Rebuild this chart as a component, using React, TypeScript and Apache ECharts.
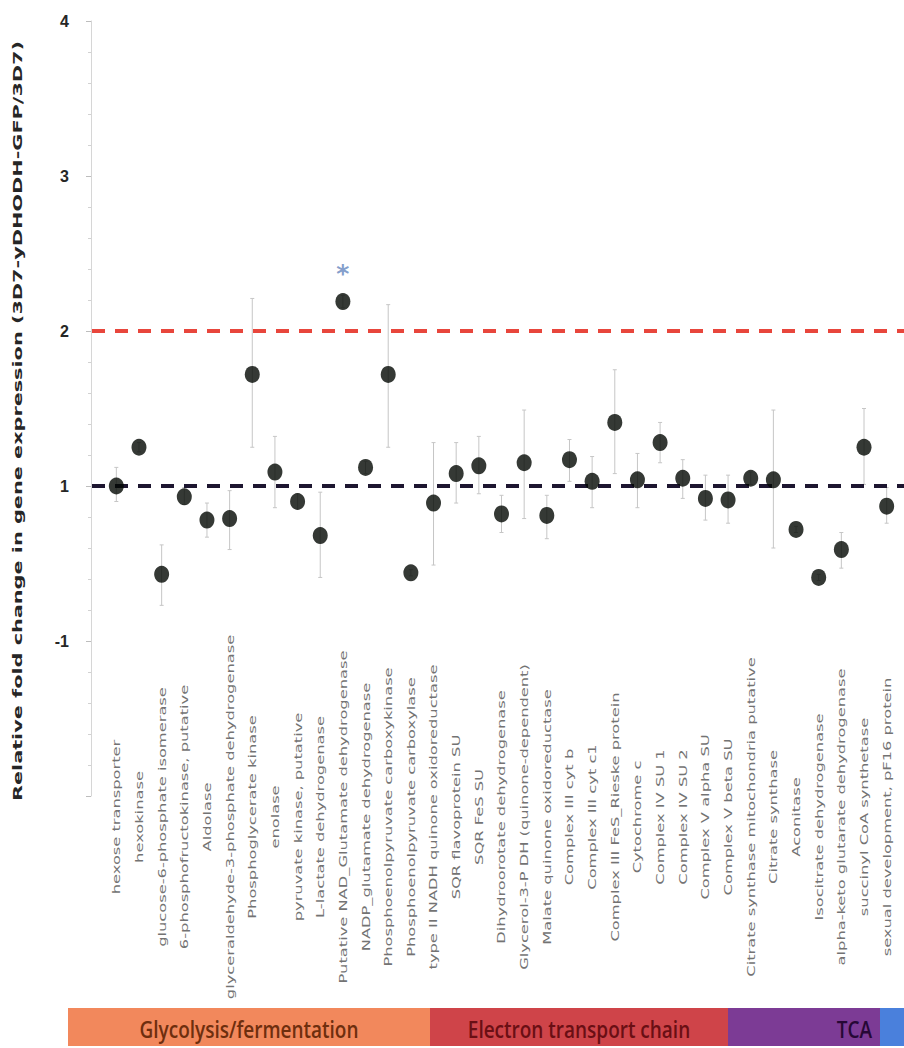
import React, { useEffect, useRef } from "react";
import * as echarts from "echarts";

// Genes on the x axis, left to right
const categories = [
  "hexose transporter",
  "hexokinase",
  "glucose-6-phosphate isomerase",
  "6-phosphofructokinase, putative",
  "Aldolase",
  "glyceraldehyde-3-phosphate dehydrogenase",
  "Phosphoglycerate kinase",
  "enolase",
  "pyruvate kinase, putative",
  "L-lactate dehydrogenase",
  "Putative NAD_Glutamate dehydrogenase",
  "NADP_glutamate dehydrogenase",
  "Phosphoenolpyruvate carboxykinase",
  "Phosphoenolpyruvate carboxylase",
  "type II NADH quinone oxidoreductase",
  "SQR flavoprotein SU",
  "SQR FeS SU",
  "Dihydroorotate dehydrogenase",
  "Glycerol-3-P DH (quinone-dependent)",
  "Malate quinone oxidoreductase",
  "Complex III cyt b",
  "Complex III cyt c1",
  "Complex III FeS_Rieske protein",
  "Cytochrome c",
  "Complex IV SU 1",
  "Complex IV SU 2",
  "Complex V alpha SU",
  "Complex V beta SU",
  "Citrate synthase mitochondria putative",
  "Citrate synthase",
  "Aconitase",
  "Isocitrate dehydrogenase",
  "alpha-keto glutarate dehydrogenase",
  "succinyl CoA synthetase",
  "sexual development, pF16 protein",
];

// Mean relative fold change (axis units)
const foldChange = [
  1.0, 1.25, 0.43, 0.93, 0.78, 0.79, 1.72, 1.09, 0.9, 0.68, 2.19, 1.12, 1.72,
  0.44, 0.89, 1.08, 1.13, 0.82, 1.15, 0.81, 1.17, 1.03, 1.41, 1.04, 1.28, 1.05,
  0.92, 0.91, 1.05, 1.04, 0.72, 0.41, 0.59, 1.25, 0.87,
];

// Error bar lower bounds
const errLow = [
  0.9, 1.22, 0.23, 0.88, 0.67, 0.59, 1.25, 0.86, 0.85, 0.41, 2.15, 1.08, 1.25,
  0.42, 0.49, 0.89, 0.95, 0.7, 0.79, 0.66, 1.03, 0.86, 1.08, 0.86, 1.15, 0.92,
  0.78, 0.76, 1.01, 0.6, 0.7, 0.39, 0.47, 1.01, 0.76,
];

// Error bar upper bounds
const errHigh = [
  1.12, 1.28, 0.62, 0.99, 0.89, 0.97, 2.21, 1.32, 0.95, 0.96, 2.23, 1.16, 2.17,
  0.46, 1.28, 1.28, 1.32, 0.94, 1.49, 0.94, 1.3, 1.19, 1.75, 1.21, 1.41, 1.17,
  1.07, 1.07, 1.09, 1.49, 0.74, 0.43, 0.7, 1.5, 0.99,
];

// Genes flagged as significant
const significantIdx = [10];

// Tick labels shown on the value axis
const yTickLabels: Record<string, string> = {
  "4": "4",
  "3": "3",
  "2": "2",
  "1": "1",
  "0": "-1",
};

// Reference lines
const thresholdLevel = 2;
const baselineLevel = 1;

// Pathway groups shown in the band under the chart
const groupNames = ["Glycolysis/fermentation", "Electron transport chain", "TCA", ""];
const groupFill = ["#f2885c", "#cf4449", "#7c3b95", "#4a80dc"];
const groupText = ["#6e2e0e", "#6a0f14", "#260835", "#1a2a60"];

const yTitle = "Relative fold change in gene expression (3D7-yDHODH-GFP/3D7)";

export default function App() {
  const ref = useRef<HTMLDivElement>(null);

  useEffect(() => {
    document.body.style.margin = "0";
    const el = ref.current!;
    const chart = echarts.init(el, null, { renderer: "svg" });

    chart.setOption({
      animation: false,
      backgroundColor: "#ffffff",
      grid: { left: 105, right: 6, top: 21, bottom: 252 },
      xAxis: {
        type: "category",
        data: categories,
        axisLine: { show: false },
        axisTick: { show: false },
        axisLabel: { show: false },
        splitLine: { show: false },
      },
      yAxis: {
        type: "value",
        min: -1,
        max: 4,
        interval: 1,
        offset: 14,
        axisLine: { show: true, lineStyle: { color: "#d6d6d6", width: 1 } },
        axisTick: { show: true, length: 5, lineStyle: { color: "#bdbdbd" } },
        minorTick: {
          show: true,
          splitNumber: 5,
          length: 3,
          lineStyle: { color: "#d2d2d2" },
        },
        splitLine: { show: false },
        axisLabel: {
          formatter: (v: number) => yTickLabels[String(v)] ?? "",
          fontSize: 16,
          fontWeight: "bold",
          color: "#262626",
          fontFamily: "Liberation Sans",
          margin: 22,
        },
      },
      series: [
        {
          type: "custom",
          name: "error",
          z: 1,
          data: categories.map((_, i) => [i, errLow[i], errHigh[i]]),
          encode: { x: 0, y: [1, 2] },
          renderItem: (_params: any, api: any) => {
            const i = api.value(0);
            const lo = api.coord([i, api.value(1)]);
            const hi = api.coord([i, api.value(2)]);
            const cap = 2;
            const style = { stroke: "#c6c6c6", lineWidth: 1 };
            return {
              type: "group",
              children: [
                { type: "line", shape: { x1: lo[0], y1: lo[1], x2: hi[0], y2: hi[1] }, style },
                { type: "line", shape: { x1: lo[0] - cap, y1: lo[1], x2: lo[0] + cap, y2: lo[1] }, style },
                { type: "line", shape: { x1: hi[0] - cap, y1: hi[1], x2: hi[0] + cap, y2: hi[1] }, style },
              ],
            };
          },
        },
        {
          type: "scatter",
          name: "fold change",
          z: 3,
          symbol: "circle",
          symbolSize: [15, 17],
          itemStyle: { color: "#030703" },
          data: foldChange.map((v, i) =>
            significantIdx.includes(i)
              ? {
                  value: [i, v],
                  label: {
                    show: true,
                    position: "top",
                    distance: 7,
                    formatter: "*",
                    fontSize: 25,
                    fontWeight: "bold",
                    fontFamily: "DejaVu Sans",
                    color: "#6485be",
                  },
                }
              : [i, v]
          ),
        },
      ],
    });

    const W = 904;
    const xOf = (i: number) => chart.convertToPixel({ xAxisIndex: 0 }, i) as number;
    const yOf = (v: number) => chart.convertToPixel({ yAxisIndex: 0 }, v) as number;

    const dashed = (v: number, color: string) => ({
      type: "line",
      z: 1,
      silent: true,
      shape: { x1: 92, y1: yOf(v), x2: W, y2: yOf(v) },
      style: { stroke: color, lineWidth: 4, lineDash: [13, 10] },
    });

    const labels = categories.map((name, i) => ({
      type: "text",
      silent: true,
      x: xOf(i),
      y: 817,
      rotation: Math.PI / 2,
      scaleX: 1.48,
      style: {
        text: name,
        fontSize: 11,
        fontFamily: "DejaVu Sans",
        fill: "#737373",
        align: "center",
        verticalAlign: "middle",
      },
    }));

    const bandEdges = [68, 430, 728, 880, W];
    const bandTop = 1008;
    const bandH = 38;
    const bands: any[] = [];
    groupNames.forEach((name, g) => {
      bands.push({
        type: "rect",
        silent: true,
        shape: { x: bandEdges[g], y: bandTop, width: bandEdges[g + 1] - bandEdges[g], height: bandH },
        style: { fill: groupFill[g] },
      });
      if (name) {
        const isLast = g === 2;
        bands.push({
          type: "text",
          silent: true,
          x: isLast ? bandEdges[g + 1] - 8 : (bandEdges[g] + bandEdges[g + 1]) / 2,
          y: bandTop + bandH / 2 + 2,
          scaleY: 1.2,
          style: {
            text: name,
            fontSize: 19,
            fontWeight: 600,
            fontFamily: "'Open Sans', 'Liberation Sans', sans-serif",
            fill: groupText[g],
            align: isLast ? "right" : "center",
            verticalAlign: "middle",
          },
        });
      }
    });

    const title = {
      type: "text",
      silent: true,
      x: 18,
      y: 421,
      rotation: Math.PI / 2,
      scaleX: 1.6,
      style: {
        text: yTitle,
        fontSize: 13,
        fontWeight: "bold",
        fontFamily: "DejaVu Sans",
        fill: "#262626",
        align: "center",
        verticalAlign: "middle",
      },
    };

    chart.setOption({
      graphic: [
        dashed(thresholdLevel, "#e8463c"),
        dashed(baselineLevel, "#1d1630"),
        ...labels,
        ...bands,
        title,
      ],
    });

    return () => chart.dispose();
  }, []);

  return (
    <div
      ref={ref}
      style={{ position: "absolute", left: 0, top: 0, width: 904, height: 1048 }}
    />
  );
}
